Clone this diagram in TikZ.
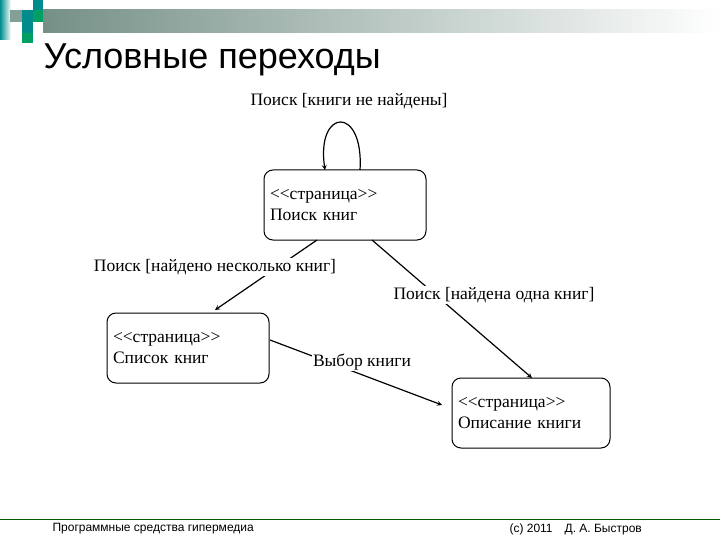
\documentclass[tikz,border=0pt]{standalone}
\usepackage{fontspec}
\setmainfont{Liberation Serif}[Ligatures=NoCommon]
\newfontfamily\arialf{Liberation Sans}
\begin{document}
\begin{tikzpicture}[x=1pt,y=-1pt,
  state/.style={draw,rounded corners=9pt,line width=1pt,minimum width=162pt,minimum height=70pt,align=left,text width=150pt,font=\fontsize{17.5}{21}\selectfont},
  lbl/.style={fill=white,inner sep=1pt,font=\fontsize{17.5}{21}\selectfont},
  arr/.style={line width=1.2pt,-stealth}]
\useasboundingbox (0,0) rectangle (720,540);
\definecolor{teal1}{RGB}{0,140,140}
\definecolor{grn1}{RGB}{0,160,100}
\definecolor{gry1}{RGB}{130,160,150}
\shade[left color=teal1,right color=white] (0,0) rectangle (11,40);
\shade[left color=gry1!90!black,right color=white] (43,10) rectangle (720,33);
\fill[gry1] (10,10) rectangle (22,22);
\fill[teal1] (22,10) rectangle (33,22);
\fill[grn1] (33,10) rectangle (43,22);
\fill[teal1] (33,0) rectangle (43,10);
\fill[teal1] (22,22) rectangle (33,33);
\fill[grn1] (22,33) rectangle (33,43);
\node[anchor=west,font=\arialf\fontsize{36}{40}\selectfont] (title) at (40,60) {Условные переходы};
\node[state] (s) at (345,205) {{<}{<}страница{>}{>}\\Поиск книг};
\node[state] (l) at (188,348) {{<}{<}страница{>}{>}\\Список книг};
\node[state,minimum width=158pt,text width=146pt] (r) at (531,413) {{<}{<}страница{>}{>}\\Описание книги};
\coordinate (la) at (360,170);
\coordinate (lb) at (325,170);
\draw[arr] (la) .. controls (364,105) and (316,108) .. (lb);
\draw[arr] (317,240) -- (215,310);
\draw[arr] (372,240) -- (532,378);
\draw[arr] (270,340) -- (442,405);
\node[lbl] (t1) at (349,101) {Поиск [книги не найдены]};
\node[lbl] (t2) at (215,267) {Поиск [найдено несколько книг]};
\node[lbl] (t3) at (494,295) {Поиск [найдена одна книг]};
\node[lbl] (t4) at (362,362) {Выбор книги};
\draw[color=green!35!black] (0,519) -- (720,519);
\node[anchor=west,font=\arialf\fontsize{12}{14}\selectfont] (f1) at (49,529) {Программные средства гипермедиа};
\node[anchor=west,font=\arialf\fontsize{12}{14}\selectfont] (f2) at (506,529) {(c) 2011\quad Д. А. Быстров};
\end{tikzpicture}
\end{document}
